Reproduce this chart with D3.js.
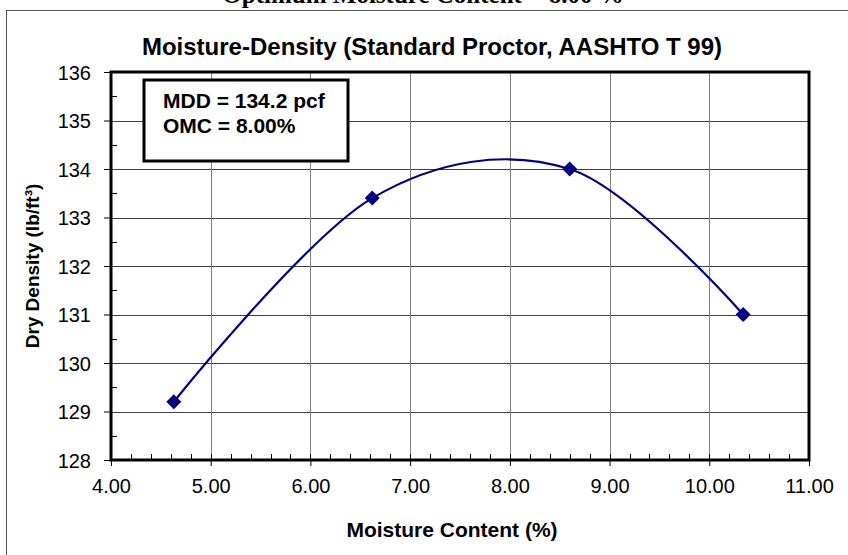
<!DOCTYPE html>
<html>
<head>
<meta charset="utf-8">
<script src="https://cdn.jsdelivr.net/npm/d3@7"></script>
<style>
  html, body { margin: 0; padding: 0; background: #fff; overflow: hidden; }
  text { font-family: "Liberation Sans", Arial, Helvetica, sans-serif; }
</style>
</head>
<body>
<div id="chart"></div>
<script>
// data
var moisture = [4.63, 6.62, 8.60, 10.34];
var density = [129.2, 133.4, 134.0, 131.0];
var xTicks = [4, 5, 6, 7, 8, 9, 10, 11];
var yTicks = [128, 129, 130, 131, 132, 133, 134, 135, 136];
var pageTitle = "Optimum Moisture Content = 8.00 %";
var chartTitle = "Moisture-Density (Standard Proctor, AASHTO T 99)";
var boxLines = ["MDD = 134.2 pcf", "OMC = 8.00%"];

let W = 848, H = 555;
let margin = { top: 72, right: 39, bottom: 95, left: 111 };
let width = W - margin.left - margin.right;
let height = H - margin.top - margin.bottom;

let svg = d3.select("#chart").append("svg")
  .attr("width", W)
  .attr("height", H);

// outer frame (runs off the page on the right / bottom)
svg.append("rect")
  .attr("x", 6.5).attr("y", 10.5)
  .attr("width", 900).attr("height", 600)
  .attr("fill", "none").attr("stroke", "#555").attr("stroke-width", 1);

// clipped heading at the very top
svg.append("text")
  .attr("x", 423).attr("y", 3)
  .attr("text-anchor", "middle")
  .style("font-family", "'Liberation Serif', 'Times New Roman', serif")
  .style("font-weight", "bold")
  .style("font-size", "25px")
  .text(pageTitle);

svg.append("text")
  .attr("x", 432).attr("y", 55)
  .attr("text-anchor", "middle")
  .style("font-weight", "bold")
  .style("font-size", "24px")
  .text(chartTitle);

let g = svg.append("g")
  .attr("transform", "translate(" + margin.left + "," + margin.top + ")");

let x = d3.scaleLinear().domain([4, 11]).range([0, width]);
let y = d3.scaleLinear().domain([128, 136]).range([height, 0]);

// gridlines
g.append("g").selectAll("line")
  .data(yTicks.slice(1, -1))
  .enter().append("line")
  .attr("x1", 0).attr("x2", width)
  .attr("y1", d => Math.round(y(d)) + 0.5).attr("y2", d => Math.round(y(d)) + 0.5)
  .attr("stroke", "#404040").attr("stroke-width", 1);

g.append("g").selectAll("line")
  .data(xTicks.slice(1, -1))
  .enter().append("line")
  .attr("y1", 0).attr("y2", height)
  .attr("x1", d => Math.round(x(d)) + 0.5).attr("x2", d => Math.round(x(d)) + 0.5)
  .attr("stroke", "#808080").attr("stroke-width", 1);

// minor ticks (inside)
let xMinor = d3.range(4, 11.001, 0.2);
let yMinor = d3.range(128.5, 136, 1);
g.append("g").selectAll("line")
  .data(xMinor)
  .enter().append("line")
  .attr("x1", d => Math.round(x(d)) + 0.5).attr("x2", d => Math.round(x(d)) + 0.5)
  .attr("y1", height).attr("y2", height - 6)
  .attr("stroke", "#000").attr("stroke-width", 1);
g.append("g").selectAll("line")
  .data(yMinor)
  .enter().append("line")
  .attr("y1", d => Math.round(y(d)) + 0.5).attr("y2", d => Math.round(y(d)) + 0.5)
  .attr("x1", 0).attr("x2", 6)
  .attr("stroke", "#000").attr("stroke-width", 1);

// axes
let xAxis = d3.axisBottom(x).tickValues(xTicks).tickSize(6).tickPadding(9)
  .tickFormat(d3.format(".2f"));
let yAxis = d3.axisLeft(y).tickValues(yTicks).tickSize(7).tickPadding(13)
  .tickFormat(d3.format("d"));

let gx = g.append("g")
  .attr("transform", "translate(0," + height + ")")
  .call(xAxis);
let gy = g.append("g").call(yAxis);

[gx, gy].forEach(function (a) {
  a.select(".domain").remove();
  a.selectAll("line").attr("stroke", "#000");
  a.selectAll("text")
    .attr("fill", "#000")
    .style("font-family", "'Liberation Sans', Arial, sans-serif")
    .style("font-size", "20px");
});
gx.selectAll("text").attr("dy", "0.9em");
gy.selectAll("text").attr("dy", "0.36em");

// plot frame
g.append("rect")
  .attr("x", 0).attr("y", 0)
  .attr("width", width).attr("height", height)
  .attr("fill", "none").attr("stroke", "#000").attr("stroke-width", 3);

// smoothed curve
let line = d3.line()
  .x((d, i) => x(moisture[i]))
  .y(d => y(d))
  .curve(d3.curveCardinal.tension(0));

g.append("path")
  .datum(density)
  .attr("d", line)
  .attr("fill", "none")
  .attr("stroke", "#000080")
  .attr("stroke-width", 2.2);

g.selectAll(".pt")
  .data(density)
  .enter().append("path")
  .attr("class", "pt")
  .attr("transform", (d, i) => "translate(" + x(moisture[i]) + "," + y(d) + ")")
  .attr("d", "M0,-7.5L7.5,0L0,7.5L-7.5,0Z")
  .attr("fill", "#000080");

// MDD / OMC box
svg.append("rect")
  .attr("x", 144).attr("y", 80)
  .attr("width", 204).attr("height", 81)
  .attr("fill", "#fff").attr("stroke", "#000").attr("stroke-width", 3);

svg.selectAll(".boxtxt")
  .data(boxLines)
  .enter().append("text")
  .attr("class", "boxtxt")
  .attr("x", 163)
  .attr("y", (d, i) => 108 + i * 25)
  .style("font-weight", "bold")
  .style("font-size", "21px")
  .text(d => d);

// axis titles
svg.append("text")
  .attr("transform", "translate(39,266) rotate(-90)")
  .attr("text-anchor", "middle")
  .style("font-weight", "bold")
  .style("font-size", "19px")
  .text("Dry Density (lb/ft\u00b3)");

svg.append("text")
  .attr("x", 452).attr("y", 537)
  .attr("text-anchor", "middle")
  .style("font-weight", "bold")
  .style("font-size", "21px")
  .text("Moisture Content (%)");
</script>
</body>
</html>
